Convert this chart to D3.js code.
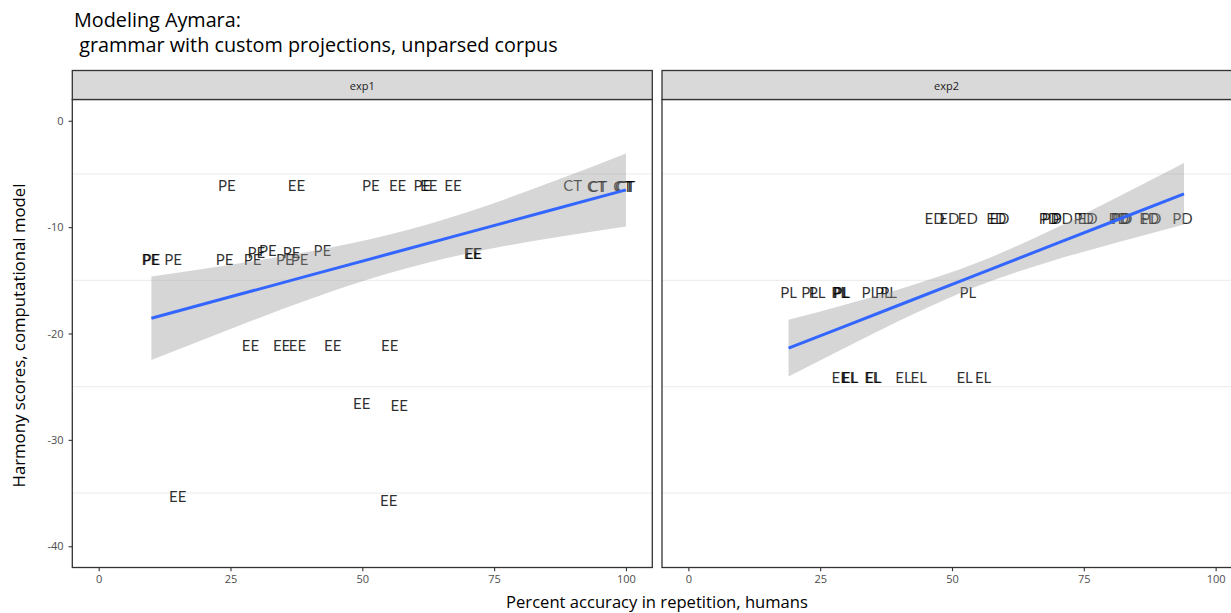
<!DOCTYPE html>
<html>
<head>
<meta charset="utf-8">
<script src="https://cdn.jsdelivr.net/npm/d3@7"></script>
<style>
  html, body { margin: 0; padding: 0; background: #fff; }
  svg { display: block; font-family: "Open Sans", Lato, sans-serif; }
</style>
</head>
<body>
<svg id="chart" width="1231" height="613"></svg>
<script>
// ---------- data ----------
const panels = ["exp1", "exp2"];

const exp1Labels = ["PE","EE","PE","EE","PE","EE","EE","CT","CT","CT","CT","CT","CT",
                    "PE","PE","PE","PE","PE","PE","PE","PE","PE","PE","PE","EE","EE",
                    "EE","EE","EE","EE","EE","EE","EE","EE","EE"];
const exp1X = [24.3,37.5,51.6,56.7,61.4,62.6,67.2,89.9,94.4,94.7,99.4,99.7,100,
               9.8,10.0,14.1,23.9,29.2,29.9,32.1,35.3,36.6,38.1,42.4,70.9,71.1,
               28.8,34.7,37.7,44.4,55.2,49.9,57.0,15.0,55.0];
const exp1Y = [-6.0,-6.0,-6.0,-6.0,-6.0,-6.0,-6.0,-6.0,-6.1,-6.1,-6.1,-6.1,-6.1,
               -13.0,-13.0,-13.0,-13.0,-13.0,-12.38,-12.13,-13.0,-12.38,-13.0,-12.13,-12.45,-12.45,
               -21.07,-21.07,-21.07,-21.07,-21.07,-26.56,-26.75,-35.3,-35.7];

const exp2Labels = ["ED","ED","ED","ED","ED","PD","PD","PD","PD","ED","PD","PD","PD","ED","PD","PD",
                    "PL","PL","PL","PL","PL","PL","PL","PL","PL","PL",
                    "EL","EL","EL","EL","EL","EL","EL","EL","EL"];
const exp2X = [46.7,49.5,53.0,58.4,59.0,68.4,68.9,71.0,75.0,75.7,81.6,82.0,82.3,87.4,87.8,93.7,
               19.0,23.0,24.4,28.7,28.9,29.1,34.4,37.0,38.0,53.0,
               28.7,30.5,30.7,34.9,35.1,40.8,43.7,52.4,55.9];
const exp2Y = [-9.15,-9.15,-9.15,-9.15,-9.15,-9.15,-9.15,-9.15,-9.15,-9.15,-9.15,-9.15,-9.15,-9.15,-9.15,-9.15,
               -16.06,-16.06,-16.06,-16.06,-16.06,-16.06,-16.06,-16.06,-16.06,-16.06,
               -24.06,-24.06,-24.06,-24.06,-24.06,-24.06,-24.06,-24.06,-24.06];

// linear smooth (fit with confidence band)
const exp1SmoothX  = [10, 25, 40, 55, 70, 85, 100];
const exp1SmoothY  = [-18.56, -16.55, -14.54, -12.53, -10.52, -8.51, -6.50];
const exp1SmoothLo = [-22.49, -19.57, -16.78, -14.34, -12.47, -11.09, -9.93];
const exp1SmoothHi = [-14.63, -13.53, -12.30, -10.72, -8.57, -5.93, -3.07];

const exp2SmoothX  = [19, 30, 40, 55, 70, 82, 94];
const exp2SmoothY  = [-21.38, -19.25, -17.32, -14.41, -11.51, -9.19, -6.87];
const exp2SmoothLo = [-24.05, -21.26, -18.80, -15.51, -13.02, -11.35, -9.76];
const exp2SmoothHi = [-18.71, -17.24, -15.84, -13.31, -10.00, -7.03, -3.98];

const xTicks = [0, 25, 50, 75, 100];
const yTicks = [0, -10, -20, -30, -40];
const yMinor = [-5, -15, -25, -35];

const titleLines = ["Modeling Aymara:", " grammar with custom projections, unparsed corpus"];
const xTitle = "Percent accuracy in repetition, humans";
const yTitle = "Harmony scores, computational model";

// ---------- layout ----------
const svg = d3.select("#chart");
const panelTop = 99.5, panelBottom = 567.5, stripTop = 70.5;
const panelLefts = [72.3, 662];
const panelW = 580;

const y = d3.scaleLinear().domain([-42, 2]).range([panelBottom, panelTop]);

const panelData = [
  {labels: exp1Labels, xs: exp1X, ys: exp1Y, sx: exp1SmoothX, sy: exp1SmoothY, lo: exp1SmoothLo, hi: exp1SmoothHi},
  {labels: exp2Labels, xs: exp2X, ys: exp2Y, sx: exp2SmoothX, sy: exp2SmoothY, lo: exp2SmoothLo, hi: exp2SmoothHi}
];

// title
svg.append("text").attr("x", 74).attr("y", 27).attr("font-size", 19.8).attr("fill", "#000")
   .text(titleLines[0]);
svg.append("text").attr("x", 74).attr("y", 52).attr("font-size", 19.8).attr("fill", "#000")
   .attr("xml:space", "preserve").style("white-space", "pre")
   .text(titleLines[1]);

panels.forEach((name, i) => {
  const left = panelLefts[i];
  const x = d3.scaleLinear().domain([-5, 105]).range([left, left + panelW]);
  const d = panelData[i];
  const clipId = "clip" + i;
  svg.append("clipPath").attr("id", clipId).append("rect")
     .attr("x", left).attr("y", panelTop).attr("width", panelW).attr("height", panelBottom - panelTop);

  const g = svg.append("g");
  // gridlines (minor only)
  g.selectAll("line.grid").data(yMinor).join("line")
    .attr("x1", left).attr("x2", left + panelW)
    .attr("y1", v => y(v)).attr("y2", v => y(v))
    .attr("stroke", "#ebebeb").attr("stroke-width", 1);

  const pg = g.append("g").attr("clip-path", `url(#${clipId})`);
  // text labels
  pg.selectAll("text.lab").data(d.labels.map((l, k) => ({l, x: d.xs[k], y: d.ys[k]}))).join("text")
    .attr("x", p => x(p.x)).attr("y", p => y(p.y))
    .attr("text-anchor", "middle").attr("dominant-baseline", "central")
    .attr("font-family", "Lato, sans-serif")
    .attr("font-size", 15).attr("fill", "#000").attr("fill-opacity", 0.82)
    .text(p => p.l);

  // ribbon
  const band = d.sx.map((v, k) => ({x: v, lo: d.lo[k], hi: d.hi[k], f: d.sy[k]}));
  pg.append("path").datum(band)
    .attr("d", d3.area().x(p => x(p.x)).y0(p => y(p.lo)).y1(p => y(p.hi)).curve(d3.curveMonotoneX))
    .attr("fill", "#999999").attr("fill-opacity", 0.4);
  pg.append("path").datum(band)
    .attr("d", d3.line().x(p => x(p.x)).y(p => y(p.f)))
    .attr("fill", "none").attr("stroke", "#3366FF").attr("stroke-width", 3);

  // panel border
  g.append("rect").attr("x", left).attr("y", panelTop).attr("width", panelW).attr("height", panelBottom - panelTop)
    .attr("fill", "none").attr("stroke", "#333333").attr("stroke-width", 1.3);
  // strip
  g.append("rect").attr("x", left).attr("y", stripTop).attr("width", panelW).attr("height", panelTop - stripTop)
    .attr("fill", "#d9d9d9").attr("stroke", "#333333").attr("stroke-width", 1.3);
  g.append("text").attr("x", left + panelW / 2 - (i === 1 ? 5.5 : 0)).attr("y", (stripTop + panelTop) / 2)
    .attr("text-anchor", "middle").attr("dominant-baseline", "central")
    .attr("font-size", 11).attr("fill", "#1a1a1a").text(name);

  // x axis
  const xa = g.append("g").attr("transform", `translate(0,${panelBottom})`)
    .call(d3.axisBottom(x).tickValues(xTicks).tickSize(3.7).tickPadding(4).tickFormat(v => String(v)));
  xa.select(".domain").remove();
  xa.selectAll("line").attr("stroke", "#333333").attr("stroke-width", 1.1);
  xa.selectAll("text").attr("fill", "#4d4d4d").attr("font-size", 11).attr("font-family", "'Open Sans', sans-serif");

  if (i === 0) {
    const ya = g.append("g").attr("transform", `translate(${left},0)`)
      .call(d3.axisLeft(y).tickValues(yTicks).tickSize(3.7).tickPadding(5).tickFormat(v => String(v)));
    ya.select(".domain").remove();
    ya.selectAll("line").attr("stroke", "#333333").attr("stroke-width", 1.1);
    ya.selectAll("text").attr("fill", "#4d4d4d").attr("font-size", 11).attr("font-family", "'Open Sans', sans-serif");
  }
});

// axis titles
svg.append("text").attr("x", 657).attr("y", 607.5).attr("text-anchor", "middle")
   .attr("font-size", 16.6).attr("fill", "#000").text(xTitle);
svg.append("text").attr("transform", `translate(25,${(panelTop + panelBottom) / 2 + 2}) rotate(-90)`)
   .attr("text-anchor", "middle").attr("font-size", 16.8).attr("fill", "#000").text(yTitle);
</script>
</body>
</html>
